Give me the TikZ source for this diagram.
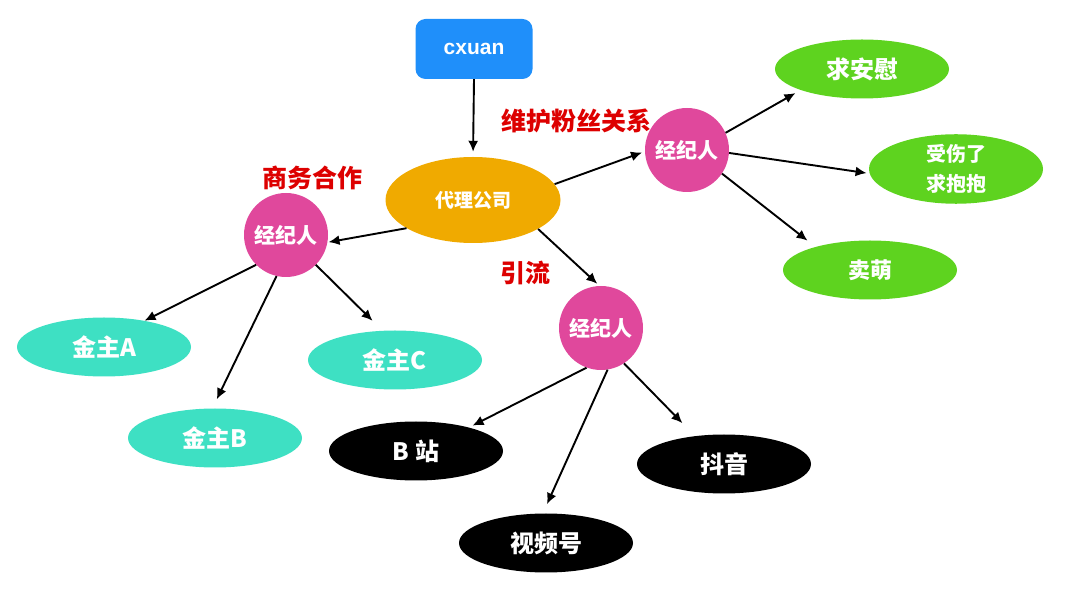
\documentclass[tikz,border=0pt]{standalone}
\usepackage{fontspec}
\setmainfont{Noto Sans CJK SC}
\newfontfamily\latinfont{Liberation Sans}
\usetikzlibrary{shapes.geometric,arrows.meta}
\definecolor{boxblue}{HTML}{1F8FFA}
\definecolor{firmorange}{HTML}{F0AA00}
\definecolor{agentpink}{HTML}{E0489C}
\definecolor{fangreen}{HTML}{5ED31F}
\definecolor{sponsorteal}{HTML}{3EE0C3}
\definecolor{labelred}{HTML}{DD0000}

\begin{document}
\begin{tikzpicture}[x=1pt,y=-1pt,
  agent/.style={circle, fill=agentpink, minimum size=84pt, inner sep=0pt,
    text=white, font=\bfseries\fontsize{21}{25}\selectfont},
  leaf/.style={ellipse, minimum width=174pt, minimum height=59pt, inner sep=0pt,
    text=white, font=\bfseries\fontsize{24}{28}\selectfont},
  tag/.style={text=labelred, font=\bfseries\fontsize{25}{29}\selectfont},
  link/.style={-{Latex[length=11pt,width=10pt]}, line width=1.9pt}]
  \useasboundingbox (0,0) rectangle (1080,593);

  % Viršus
  \node[rounded corners=10pt, fill=boxblue, minimum width=117pt, minimum height=60pt,
    text=white, font=\latinfont\bfseries\fontsize{21}{25}\selectfont] (cx) at (474,49) {cxuan};
  \node[ellipse, fill=firmorange, minimum width=175pt, minimum height=86pt, inner sep=0pt,
    text=white, font=\bfseries\fontsize{19}{22}\selectfont] (firm) at (473,200) {代理公司};

  % Agentai
  \node[agent] (agL) at (286,235) {经纪人};
  \node[agent] (agR) at (687,150) {经纪人};
  \node[agent] (agB) at (601,328) {经纪人};

  % Užrašai
  \node[tag] (tagL) at (312,178) {商务合作};
  \node[tag] (tagR) at (576,121) {维护粉丝关系};
  \node[tag] (tagB) at (525,273) {引流};

  % Kairė
  \node[leaf, fill=sponsorteal] (spA) at (104,347) {金主A};
  \node[leaf, fill=sponsorteal] (spB) at (215,438) {金主B};
  \node[leaf, fill=sponsorteal] (spC) at (395,360) {金主C};
  % Apačia
  \node[leaf, fill=black] (pfB) at (416,451) {B 站};
  \node[leaf, fill=black] (pfS) at (546,543) {视频号};
  \node[leaf, fill=black] (pfD) at (724,464) {抖音};
  % Dešinė
  \node[leaf, fill=fangreen] (fnA) at (862,69) {求安慰};
  \node[leaf, fill=fangreen, align=center, font=\bfseries\fontsize{20}{30}\selectfont] (fnB) at (956,169) {受伤了\\求抱抱};
  \node[leaf, fill=fangreen, font=\bfseries\fontsize{22}{26}\selectfont] (fnC) at (870,270) {卖萌};

  \draw[link, shorten >=5pt] (cx.south) -- (firm.north);
  \draw[link, shorten >=1pt] (firm.-157) -- (agL.-10);
  \draw[link, shorten >=3pt] (firm.11) -- (agR.182);
  \draw[link, shorten >=3pt] (firm.-24) -- (agB.92);

  \draw[link] (agL.-135) -- (spA.33);
  \draw[link, shorten >=10pt] (agL.-103) -- (spB.95);
  \draw[link, shorten >=14pt] (agL.-45) -- (spC.113);

  \draw[link, shorten >=4pt] (agB.-110) -- (pfB.24);
  \draw[link, shorten >=10pt] (agB.-81) -- (pfS.96);
  \draw[link, shorten >=18pt] (agB.-57) -- (pfD.136);

  \draw[link, shorten >=6pt] (agR.24) -- (fnA.-161);
  \draw[link, shorten >=3pt] (agR.-4) -- (fnB.183);
  \draw[link, shorten >=10pt] (agR.-34) -- (fnC.157);
\end{tikzpicture}
\end{document}
